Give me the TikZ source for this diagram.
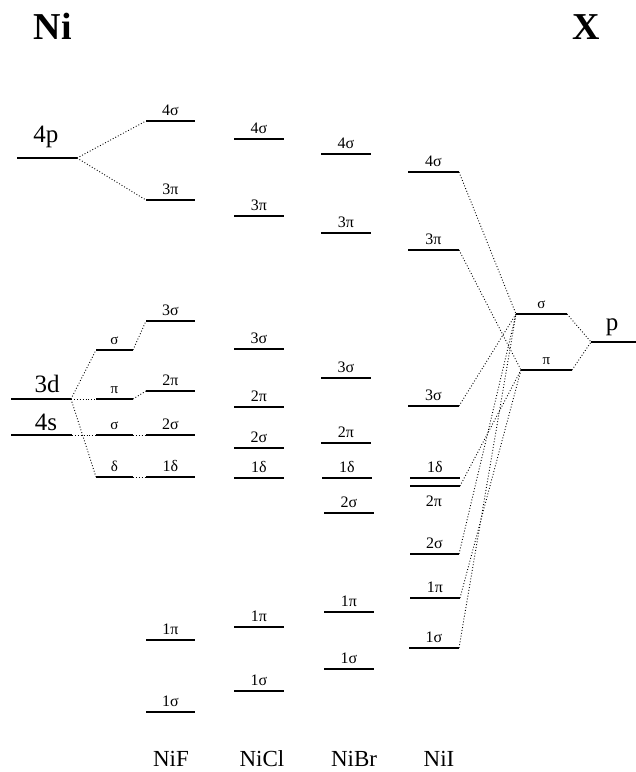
\documentclass[tikz,border=0pt]{standalone}
\usepackage{fontspec}
\setmainfont{Liberation Serif}
\newcommand{\lvl}[7]{%
  \coordinate (#1-l) at (#2,#4);
  \coordinate (#1-r) at (#3,#4);
  \draw[#6] (#1-l) -- (#1-r);
  \node[#7] (#1-t) at ({(#2+#3)/2},{#4-6}) {#5};
}
\begin{document}
\begin{tikzpicture}[x=1pt,y=-1pt]
\tikzset{
 lev/.style={line width=1.2pt},
 levm/.style={line width=1.9pt},
 levt/.style={line width=2.8pt},
 conn/.style={dotted, line width=0.9pt},
 lab/.style={font=\fontsize{16}{16}\selectfont, anchor=base, inner sep=0pt},
 slab/.style={font=\fontsize{15}{15}\selectfont, anchor=base, inner sep=0pt},
 big/.style={font=\fontsize{25}{25}\selectfont, anchor=base, inner sep=0pt},
 head/.style={font=\fontsize{38}{38}\selectfont\bfseries, inner sep=0pt},
 mol/.style={font=\fontsize{23}{23}\selectfont, anchor=base, inner sep=0pt},
}
\useasboundingbox (0,0) rectangle (636,772);

% headings
\node[head] (ni) at (53,26) {Ni};
\node[head] (xx) at (586,27) {X};

% Ni atomic levels
\lvl{a4p}{17}{77}{158}{}{lev}{lab}
\lvl{a3d}{11}{71}{399}{}{levm}{lab}
\lvl{a4s}{11}{72}{435}{}{lev}{lab}
\node[big] (t4p) at (46,142) {4p};
\node[big] (t3d) at (47,392) {3d};
\node[big] (t4s) at (46,430) {4s};

% ligand-field split
\lvl{s1}{96}{133}{350}{σ}{lev}{slab}
\lvl{p1}{96}{133}{399}{π}{lev}{slab}
\lvl{s2}{96}{133}{435}{σ}{lev}{slab}
\lvl{d1}{96}{133}{477}{δ}{lev}{slab}

% NiF
\lvl{F4s}{146}{195}{121}{4σ}{lev}{lab}
\lvl{F3p}{146}{195}{200}{3π}{levm}{lab}
\lvl{F3s}{146}{195}{321}{3σ}{lev}{lab}
\lvl{F2p}{146}{195}{391}{2π}{levt}{lab}
\lvl{F2s}{146}{195}{435}{2σ}{levt}{lab}
\lvl{F1d}{146}{195}{477}{1δ}{levt}{lab}
\lvl{F1p}{146}{195}{640}{1π}{lev}{lab}
\lvl{F1s}{146}{195}{712}{1σ}{lev}{lab}

% NiCl
\lvl{C4s}{234}{284}{139}{4σ}{levm}{lab}
\lvl{C3p}{234}{284}{216}{3π}{lev}{lab}
\lvl{C3s}{234}{284}{349}{3σ}{lev}{lab}
\lvl{C2p}{234}{284}{407}{2π}{levt}{lab}
\lvl{C2s}{234}{284}{448}{2σ}{levt}{lab}
\lvl{C1d}{234}{284}{478}{1δ}{levt}{lab}
\lvl{C1p}{234}{284}{627}{1π}{lev}{lab}
\lvl{C1s}{234}{284}{691}{1σ}{lev}{lab}

% NiBr
\lvl{B4s}{321}{371}{154}{4σ}{lev}{lab}
\lvl{B3p}{321}{371}{233}{3π}{levt}{lab}
\lvl{B3s}{321}{371}{378}{3σ}{lev}{lab}
\lvl{B2p}{321}{371}{443}{2π}{levt}{lab}
\lvl{B1d}{322}{372}{478}{1δ}{levt}{lab}
\lvl{B2s}{324}{374}{513}{2σ}{levt}{lab}
\lvl{B1p}{324}{374}{612}{1π}{lev}{lab}
\lvl{B1s}{324}{374}{669}{1σ}{lev}{lab}

% NiI
\lvl{I4s}{408}{459}{172}{4σ}{lev}{lab}
\lvl{I3p}{408}{459}{250}{3π}{lev}{lab}
\lvl{I3s}{408}{459}{406}{3σ}{lev}{lab}
\lvl{I1d}{410}{460}{478}{1δ}{levt}{lab}
\lvl{I2p}{410}{460}{486}{}{levt}{lab}
\node[lab] (I2p-b) at (434,506) {2π};
\lvl{I2s}{410}{459}{554}{2σ}{levt}{lab}
\lvl{I1p}{410}{460}{598}{1π}{lev}{lab}
\lvl{I1s}{409}{459}{648}{1σ}{lev}{lab}

% X levels
\lvl{Xs}{516}{567}{314}{σ}{lev}{slab}
\lvl{Xp}{521}{572}{370}{π}{levm}{slab}
\lvl{Xa}{591}{636}{342}{}{lev}{lab}
\node[big] (tp) at (612,330) {p};

% molecule labels
\node[mol] (mF) at (171,766) {NiF};
\node[mol] (mC) at (262,766) {NiCl};
\node[mol] (mB) at (354,766) {NiBr};
\node[mol] (mI) at (439,766) {NiI};

% connectors Ni side
\draw[conn] (a4p-r) -- (F4s-l);
\draw[conn] (a4p-r) -- (F3p-l);
\draw[conn] (a3d-r) -- (s1-l);
\draw[conn] (a3d-r) -- (p1-l);
\draw[conn] (a3d-r) -- (d1-l);
\draw[conn] (a4s-r) -- (s2-l);
\draw[conn] (s1-r) -- (F3s-l);
\draw[conn] (p1-r) -- (F2p-l);
\draw[conn] (s2-r) -- (F2s-l);
\draw[conn] (d1-r) -- (F1d-l);

% connectors X side
\draw[conn] (Xs-r) -- (Xa-l);
\draw[conn] (Xp-r) -- (Xa-l);
\draw[conn] (I4s-r) -- (Xs-l);
\draw[conn] (I3p-r) -- (Xp-l);
\draw[conn] (I3s-r) -- (Xs-l);
\draw[conn] (I2p-r) -- (Xp-l);
\draw[conn] (I2s-r) -- (Xs-l);
\draw[conn] (I1p-r) -- (Xp-l);
\draw[conn] (I1s-r) -- (Xs-l);
\end{tikzpicture}
\end{document}
